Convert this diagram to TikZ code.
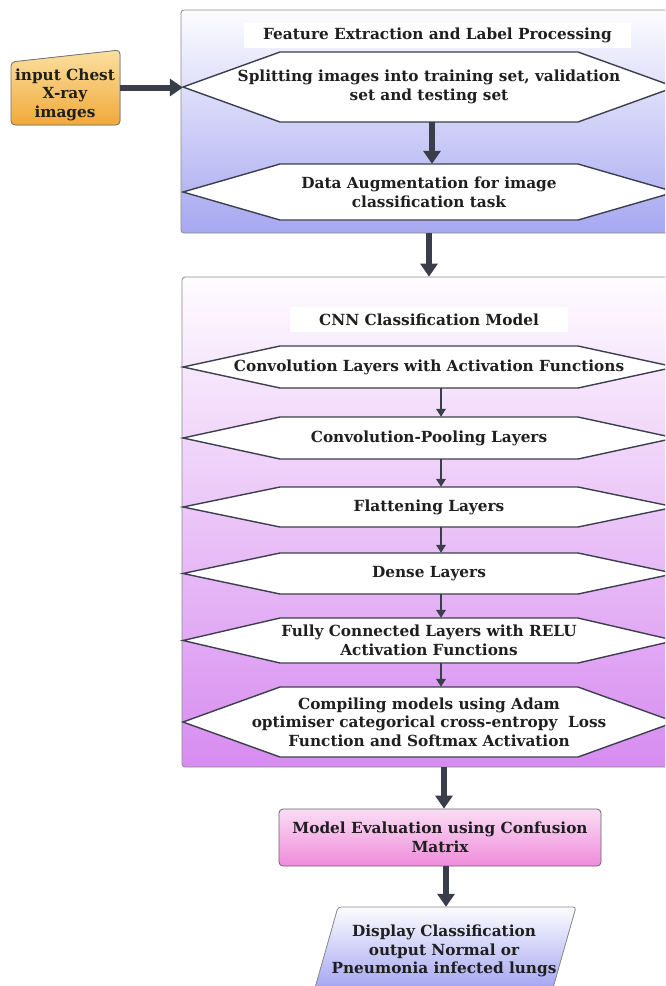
\documentclass[tikz,border=0pt]{standalone}
\usepackage{fontspec}
\setmainfont{DejaVu Serif}
\usetikzlibrary{arrows.meta}
\definecolor{arr}{HTML}{3A3D4A}
\definecolor{hexc}{HTML}{3C3F4D}
\definecolor{cone}{HTML}{A6A7F0}
\definecolor{ctwo}{HTML}{D78CF0}
\definecolor{evtop}{HTML}{F9DDF4}
\definecolor{evbot}{HTML}{F08BDB}
\definecolor{intop}{HTML}{FBE0A0}
\definecolor{inbot}{HTML}{F1A93A}
\newcommand\hexpath[2]{\filldraw[hexline] (183,#1) -- (280,{#1-#2}) -- (578,{#1-#2}) -- (675,#1) -- (578,{#1+#2}) -- (280,{#1+#2}) -- cycle;}
\begin{document}
\begin{tikzpicture}[x=1pt,y=-1pt,
  txt/.style={font=\fontsize{15.3}{18.6}\selectfont\bfseries, text=black!88, align=center, inner sep=0pt},
  hexline/.style={draw=hexc, fill=white, line width=1.4pt},
  hextext/.style={txt, minimum width=492pt},
  container/.style={draw=black!45, line width=0.8pt, rounded corners=3pt, inner sep=0pt},
  titlebox/.style={txt, fill=white, inner sep=0pt},
  bigarrow/.style={draw=arr, line width=6pt, -{Triangle[length=13pt,width=17pt]}},
  smallarrow/.style={draw=arr, line width=2.2pt, -{Triangle[length=8pt,width=9.5pt]}}
]
\clip (0,0) rectangle (665,986);
\fill[white] (0,0) rectangle (665,986);

% input
\filldraw[draw=black!55, line width=0.8pt, top color=intop, bottom color=inbot, rounded corners=4pt]
  (11,62) -- (120,50) -- (120,125) -- (11,125) -- cycle;
\node[minimum width=109pt, minimum height=75pt, inner sep=0pt] (in) at (65.5,87.5) {};
\node[txt] (intext) at (65,94.5) {input Chest\\X-ray\\images};

% container 1
\node[container, top color=white!97!cone, bottom color=cone, minimum width=499pt, minimum height=223pt] (c1) at (430.5,121.5) {};
\node[titlebox, minimum width=387pt, minimum height=25pt] (t1) at (437.5,35.5) {Feature Extraction and Label Processing};

\hexpath{87}{35}
\node[hextext, minimum height=70pt] (h1) at (429,87) {Splitting images into training set, validation\\set and testing set};
\hexpath{192}{28}
\node[hextext, minimum height=56pt] (h2) at (429,192) {Data Augmentation for image\\classification task};

% container 2
\node[container, top color=white!97!ctwo, bottom color=ctwo, minimum width=498pt, minimum height=490pt] (c2) at (431,522) {};
\node[titlebox, minimum width=278pt, minimum height=25pt] (t2) at (429,319.5) {CNN Classification Model};

\hexpath{367}{21}
\node[hextext, minimum height=42pt] (h3) at (429,367) {Convolution Layers with Activation Functions};
\hexpath{438}{21}
\node[hextext, minimum height=42pt] (h4) at (429,438) {Convolution-Pooling Layers};
\hexpath{507}{20}
\node[hextext, minimum height=40pt] (h5) at (429,507) {Flattening Layers};
\hexpath{573.5}{20.5}
\node[hextext, minimum height=41pt] (h6) at (429,573.5) {Dense Layers};
\hexpath{640.5}{22.5}
\node[hextext, minimum height=45pt] (h7) at (429,640.5) {Fully Connected Layers with RELU\\Activation Functions};
\hexpath{722}{35}
\node[hextext, minimum height=70pt] (h8) at (429,722) {Compiling models using Adam\\optimiser categorical cross-entropy~~Loss\\Function and Softmax Activation};

% evaluation
\node[txt, draw=black!60, line width=0.8pt, rounded corners=4pt, top color=evtop, bottom color=evbot, minimum width=322pt, minimum height=57pt] (ev) at (440,837.5) {Model Evaluation using Confusion\\Matrix};

% output
\filldraw[draw=black!45, line width=0.8pt, top color=white!97!cone, bottom color=cone!95!blue, rounded corners=3pt]
  (338,907) -- (576,907) -- (551,995) -- (313,995) -- cycle;
\node[minimum width=238pt, minimum height=88pt, inner sep=0pt] (out) at (445,951) {};
\node[txt] (outtext) at (444,951) {Display Classification\\output Normal or\\Pneumonia infected lungs};

% arrows
\draw[bigarrow] (in.east) -- (in.east -| h1.west);
\draw[bigarrow] ([xshift=3pt]h1.south) -- ([xshift=3pt]h2.north);
\draw[bigarrow] (c1.south -| h2.south) -- (c2.north -| h2.south);
\draw[smallarrow] ([xshift=12pt]h3.south) -- ([xshift=12pt]h4.north);
\draw[smallarrow] ([xshift=12pt]h4.south) -- ([xshift=12pt]h5.north);
\draw[smallarrow] ([xshift=12pt]h5.south) -- ([xshift=12pt]h6.north);
\draw[smallarrow] ([xshift=12pt]h6.south) -- ([xshift=12pt]h7.north);
\draw[smallarrow] ([xshift=12pt]h7.south) -- ([xshift=12pt]h8.north);
\draw[bigarrow] ([xshift=4pt]c2.south -| ev.north) -- ([xshift=4pt]ev.north);
\draw[bigarrow] ([xshift=6pt]ev.south) -- ([xshift=6pt]ev.south |- out.north);
\end{tikzpicture}
\end{document}
